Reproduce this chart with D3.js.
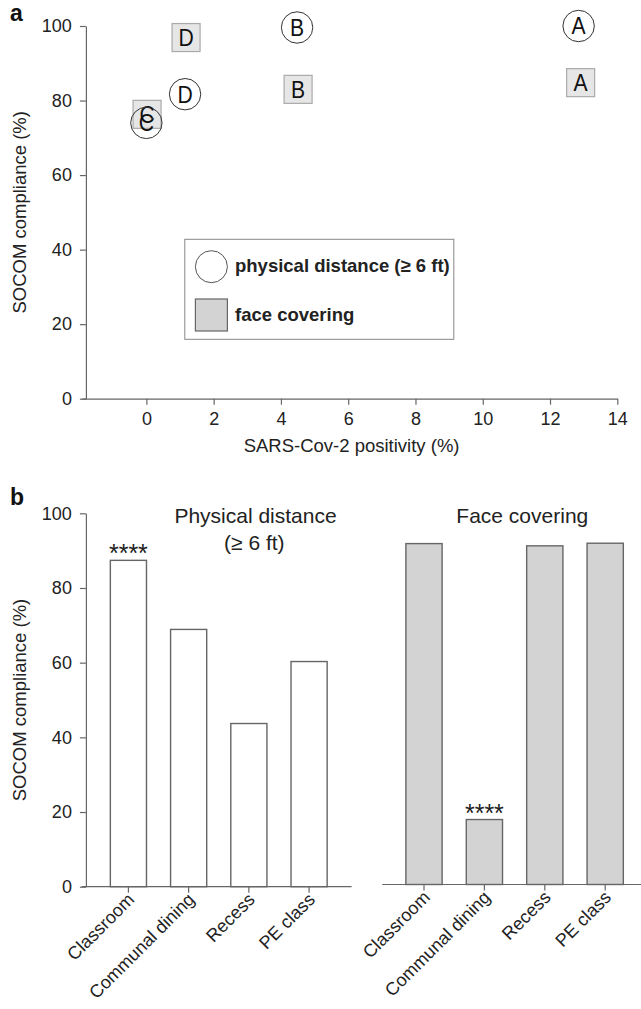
<!DOCTYPE html>
<html><head><meta charset="utf-8">
<script src="https://cdn.jsdelivr.net/npm/d3@7"></script>
<style>
html,body{margin:0;padding:0;background:#fff;}
svg{display:block;font-family:"Liberation Sans",Arial,Helvetica,sans-serif;}
</style></head>
<body>
<svg id="chart" width="641" height="1009"></svg>
<script>
// ---- Panel a data ----
const pointLabels = ["A", "B", "C", "D"];
const distanceX = [12.85, 4.48, 0.0, 1.15];
const distanceY = [100, 99.6, 74.0, 81.7];
const coveringX = [12.91, 4.51, 0.02, 1.18];
const coveringY = [84.8, 83.0, 76.3, 96.9];
const xTicksA = [0, 2, 4, 6, 8, 10, 12, 14];
const yTicks = [0, 20, 40, 60, 80, 100];
const legendLabels = ["physical distance (\u2265 6 ft)", "face covering"];

// ---- Panel b data ----
const settings = ["Classroom", "Communal dining", "Recess", "PE class"];
const distanceCompliance = [87.4, 68.9, 43.7, 60.3];
const coveringCompliance = [91.3, 17.4, 90.7, 91.4];
const distanceSig = ["****", "", "", ""];
const coveringSig = ["", "****", "", ""];

const svg = d3.select("#chart");
const axisColor = "#666";
const textColor = "#222";

function styleAxis(g) {
  g.selectAll("path,line").attr("stroke", axisColor).attr("stroke-width", 1.2);
  g.selectAll("text").attr("fill", textColor).attr("font-size", 18);
}

// ================= Panel a =================
const xA = d3.scaleLinear().domain([-1.92, 14]).range([81.8, 617.3]);
const yA = d3.scaleLinear().domain([0, 100]).range([398.7, 26]);

svg.append("g").attr("transform", `translate(0,${yA(0)})`)
  .call(d3.axisBottom(xA).tickValues(xTicksA).tickSize(6).tickPadding(8).tickSizeOuter(0))
  .call(styleAxis);
svg.append("g").attr("transform", `translate(85.9,0)`)
  .call(d3.axisLeft(yA).tickValues(yTicks).tickSize(6).tickPadding(8).tickSizeOuter(0))
  .call(styleAxis);

svg.append("text").attr("x", 351.6).attr("y", 452).attr("text-anchor", "middle")
  .attr("font-size", 18.5).attr("fill", textColor).text("SARS-Cov-2 positivity (%)");
svg.append("text").attr("transform", `translate(26,${(yA(0)+yA(100))/2}) rotate(-90)`)
  .attr("text-anchor", "middle").attr("font-size", 18.5).attr("fill", textColor)
  .text("SOCOM compliance (%)");
svg.append("text").attr("x", 10).attr("y", 21).attr("font-size", 23).attr("font-weight", "bold")
  .attr("fill", "#111").text("a");

// squares (face covering)
const sq = 28;
const sqG = svg.append("g");
pointLabels.forEach((lab, i) => {
  const cx = xA(coveringX[i]), cy = yA(coveringY[i]);
  sqG.append("rect").attr("x", cx - sq/2).attr("y", cy - sq/2).attr("width", sq).attr("height", sq)
    .attr("fill", "#e6e6e6").attr("stroke", "#aaa").attr("stroke-width", 1.2);
  sqG.append("text").attr("x", cx).attr("y", cy + 8.5).attr("text-anchor", "middle")
    .attr("font-size", 24).attr("fill", "#111").attr("transform", `translate(${cx},0) scale(0.88,1) translate(${-cx},0)`).text(lab);
});
// circles (physical distance)
const circG = svg.append("g");
pointLabels.forEach((lab, i) => {
  const cx = xA(distanceX[i]), cy = yA(distanceY[i]);
  circG.append("circle").attr("cx", cx).attr("cy", cy).attr("r", 15.7)
    .attr("fill", "none").attr("stroke", "#333").attr("stroke-width", 1);
  circG.append("text").attr("x", cx).attr("y", cy + 8.5).attr("text-anchor", "middle")
    .attr("font-size", 24).attr("fill", "#111").attr("transform", `translate(${cx},0) scale(0.88,1) translate(${-cx},0)`).text(lab);
});

// legend
const lg = svg.append("g");
lg.append("rect").attr("x", 184.8).attr("y", 239.3).attr("width", 269).attr("height", 100)
  .attr("fill", "#fff").attr("stroke", "#888").attr("stroke-width", 1);
lg.append("circle").attr("cx", 211.4).attr("cy", 266.7).attr("r", 16)
  .attr("fill", "#fff").attr("stroke", "#555").attr("stroke-width", 1);
lg.append("rect").attr("x", 195.4).attr("y", 299).attr("width", 32).attr("height", 32)
  .attr("fill", "#d3d3d3").attr("stroke", "#666").attr("stroke-width", 1.2);
lg.append("text").attr("x", 235).attr("y", 272).attr("font-size", 18.5).attr("font-weight", "bold")
  .attr("fill", textColor).text(legendLabels[0]);
lg.append("text").attr("x", 235).attr("y", 321).attr("font-size", 18.5).attr("font-weight", "bold")
  .attr("fill", textColor).text(legendLabels[1]);

// ================= Panel b =================
const yB = d3.scaleLinear().domain([0, 100]).range([886.7, 513.3]);
const yB2 = d3.scaleLinear().domain([0, 100]).range([884.5, 511.1]);
const xL = d3.scaleBand().domain(settings).range([98.3, 339.2]).paddingInner(0.4).paddingOuter(0.2);
const xR = d3.scaleBand().domain(settings).range([393.8, 635.4]).paddingInner(0.4).paddingOuter(0.2);

// y axis
svg.append("g").attr("transform", `translate(85.9,0)`)
  .call(d3.axisLeft(yB).tickValues(yTicks).tickSize(6).tickPadding(8).tickSizeOuter(0))
  .call(styleAxis);
svg.append("text").attr("transform", `translate(26,${(yB(0)+yB(100))/2}) rotate(-90)`)
  .attr("text-anchor", "middle").attr("font-size", 18.5).attr("fill", textColor)
  .text("SOCOM compliance (%)");
svg.append("text").attr("x", 10).attr("y", 505).attr("font-size", 23).attr("font-weight", "bold")
  .attr("fill", "#111").text("b");

// bars left
svg.append("g").selectAll("rect").data(settings).join("rect")
  .attr("x", d => xL(d)).attr("width", xL.bandwidth())
  .attr("y", (d, i) => yB(distanceCompliance[i])).attr("height", (d, i) => yB(0) - yB(distanceCompliance[i]))
  .attr("fill", "#fff").attr("stroke", "#666").attr("stroke-width", 1.4);
// bars right
svg.append("g").selectAll("rect").data(settings).join("rect")
  .attr("x", d => xR(d)).attr("width", xR.bandwidth())
  .attr("y", (d, i) => yB2(coveringCompliance[i])).attr("height", (d, i) => yB2(0) - yB2(coveringCompliance[i]))
  .attr("fill", "#d3d3d3").attr("stroke", "#666").attr("stroke-width", 1.4);

// x axes
function bandAxis(scale, y, x0, x1) {
  const g = svg.append("g").attr("transform", `translate(0,${y})`)
    .call(d3.axisBottom(scale).tickSize(6).tickSizeOuter(0).tickPadding(4));
  g.select(".domain").remove();
  g.append("line").attr("x1", x0).attr("x2", x1).attr("y1", 0).attr("y2", 0);
  styleAxis(g);
  g.selectAll(".tick text").attr("text-anchor", "end").attr("dy", null)
    .attr("transform", "translate(7,14) rotate(-45)").attr("y", 0).attr("x", 0);
  return g;
}
bandAxis(xL, yB(0), 81.8, 351.6);
bandAxis(xR, yB2(0), 382.3, 641);

// significance markers
settings.forEach((s, i) => {
  if (distanceSig[i]) svg.append("text").attr("x", xL(s) + xL.bandwidth()/2).attr("y", yB(distanceCompliance[i]) + 2)
    .attr("text-anchor", "middle").attr("font-size", 25).attr("fill", textColor).text(distanceSig[i]);
  if (coveringSig[i]) svg.append("text").attr("x", xR(s) + xR.bandwidth()/2).attr("y", yB2(coveringCompliance[i]) + 2)
    .attr("text-anchor", "middle").attr("font-size", 25).attr("fill", textColor).text(coveringSig[i]);
});

// titles
svg.append("text").attr("x", 255.5).attr("y", 523.3).attr("text-anchor", "middle")
  .attr("font-size", 21).attr("fill", textColor).text("Physical distance");
svg.append("text").attr("x", 254.3).attr("y", 550).attr("text-anchor", "middle")
  .attr("font-size", 21).attr("fill", textColor).text("(\u2265 6 ft)");
svg.append("text").attr("x", 522.3).attr("y", 523.3).attr("text-anchor", "middle")
  .attr("font-size", 21).attr("fill", textColor).text("Face covering");
</script>
</body></html>
